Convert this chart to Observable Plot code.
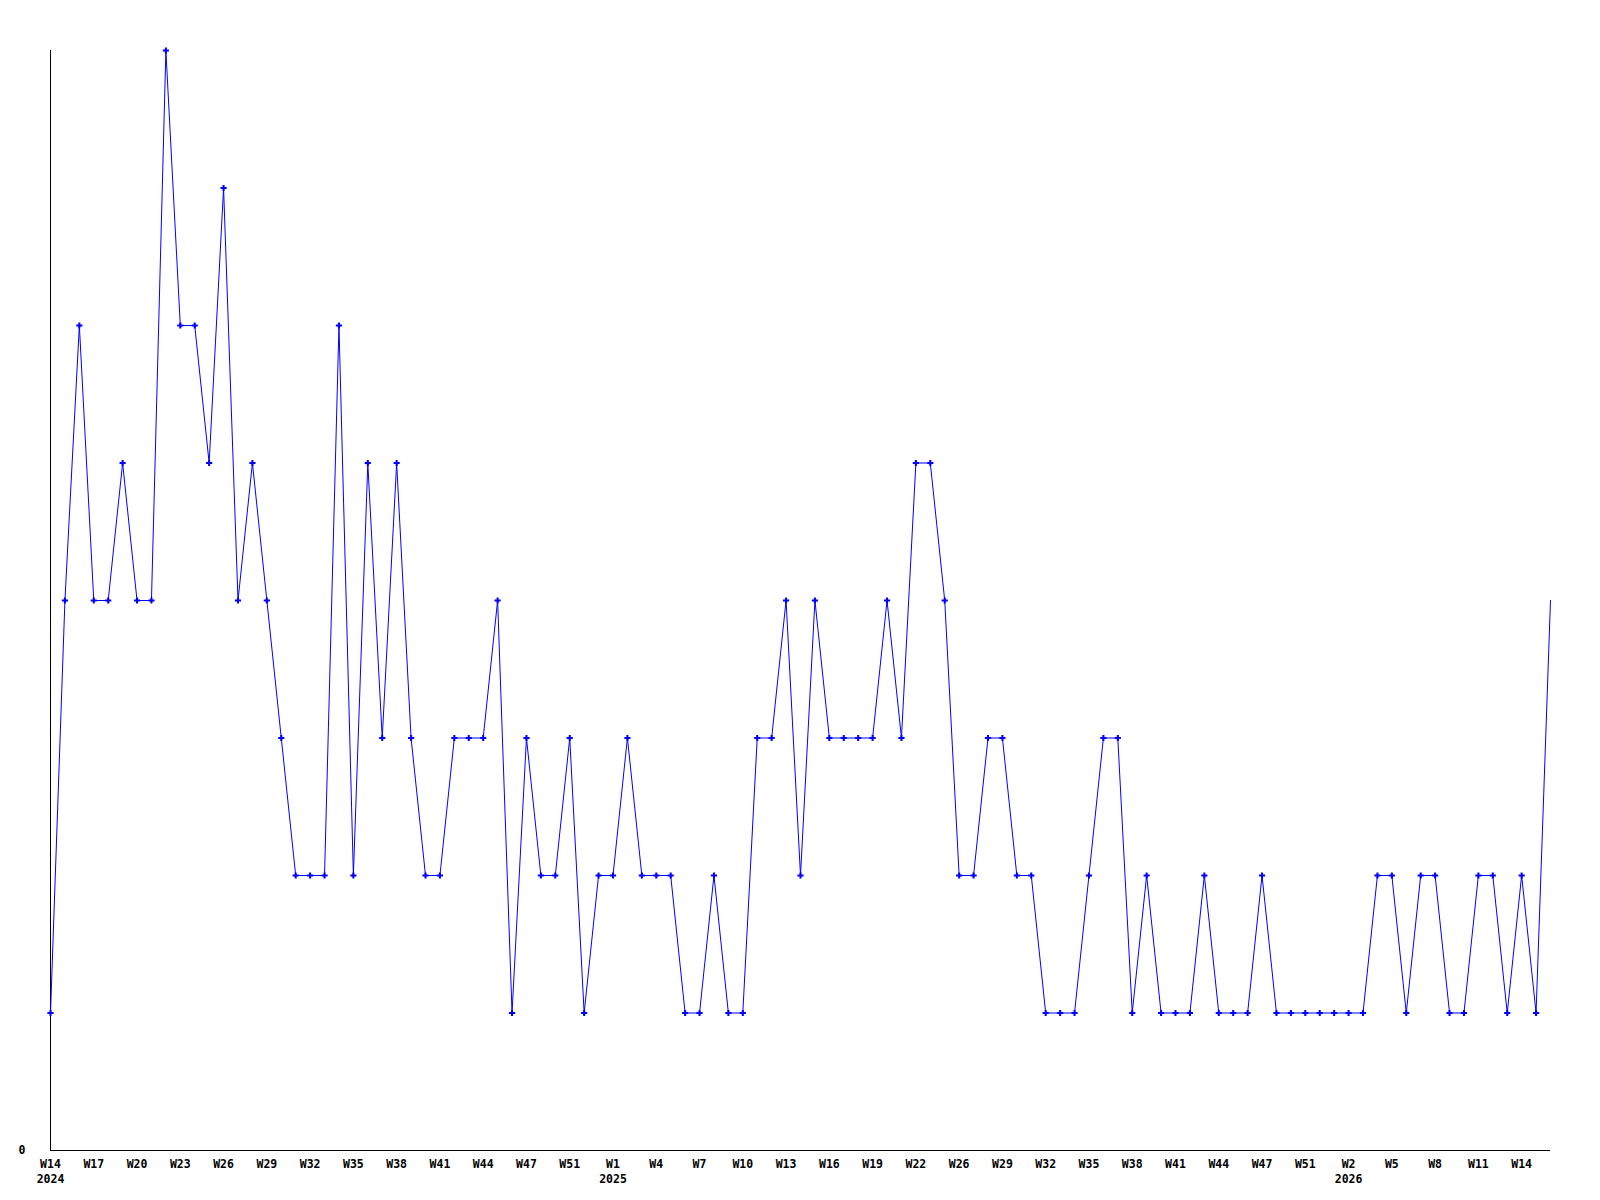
<!DOCTYPE html>
<html>
<head>
<meta charset="utf-8">
<script src="https://cdn.jsdelivr.net/npm/d3@7"></script>
<script src="https://cdn.jsdelivr.net/npm/@observablehq/plot@0.6"></script>
<style>
  html, body { margin: 0; padding: 0; background: #fff; }
</style>
</head>
<body>
<div id="chart"></div>
<script>
// Weekly values, W14 2024 onwards (105 weeks)
const values = [
  1,4,6,4,4,5,4,4,8,6,
  6,5,7,4,5,4,3,2,2,2,
  6,2,5,3,5,3,2,2,3,3,
  3,4,1,3,2,2,3,1,2,2,
  3,2,2,2,1,1,2,1,1,3,
  3,4,2,4,3,3,3,3,4,3,
  5,5,4,2,2,3,3,2,2,1,
  1,1,2,3,3,1,2,1,1,1,
  2,1,1,1,2,1,1,1,1,1,
  1,1,2,2,1,2,2,1,1,2,
  2,1,2,1,4
];

// Tick labels, one every third week
const tickLabels = [
  "W14","W17","W20","W23","W26","W29","W32","W35","W38","W41","W44","W47","W51",
  "W1","W4","W7","W10","W13","W16","W19","W22","W26","W29","W32","W35","W38","W41","W44","W47","W51",
  "W2","W5","W8","W11","W14"
];
const yearLabels = {"0": "2024", "39": "2025", "90": "2026"};

const data = values.map((v, i) => ({i, v}));
const tickIdx = tickLabels.map((_, k) => k * 3);
const labelOf = new Map(tickIdx.map((t, k) => [t, tickLabels[k] + (yearLabels[t] ? "\n" + yearLabels[t] : "")]));

const chart = Plot.plot({
  width: 1600,
  height: 1200,
  marginLeft: 50,
  marginRight: 50,
  marginTop: 50,
  marginBottom: 50,
  style: {fontFamily: "'DejaVu Sans Mono', monospace", fontSize: "11.5px", fontWeight: "bold", color: "#000", background: "#fff"},
  x: {type: "linear", domain: [0, values.length - 1], axis: null},
  y: {domain: [0, 8], axis: null},
  marks: [
    Plot.ruleY([0], {stroke: "#000", strokeWidth: 1}),
    Plot.ruleX([0], {stroke: "#000", strokeWidth: 1}),
    Plot.line(data, {x: "i", y: "v", stroke: "#0000ff", strokeWidth: 1}),
    Plot.dot(data.slice(0, -1), {x: "i", y: "v", symbol: "cross", r: 2.6, fill: "#0000ff", stroke: null}),
    Plot.axisX(tickIdx, {label: null, tickSize: 0, tickPadding: 7, tickFormat: t => labelOf.get(t), lineHeight: 1.3, fill: "#000"}),
    Plot.axisY([0], {label: null, tickSize: 0, tickPadding: 25, tickFormat: d => String(d), fill: "#000"})
  ]
});
document.getElementById("chart").appendChild(chart);
</script>
</body>
</html>
